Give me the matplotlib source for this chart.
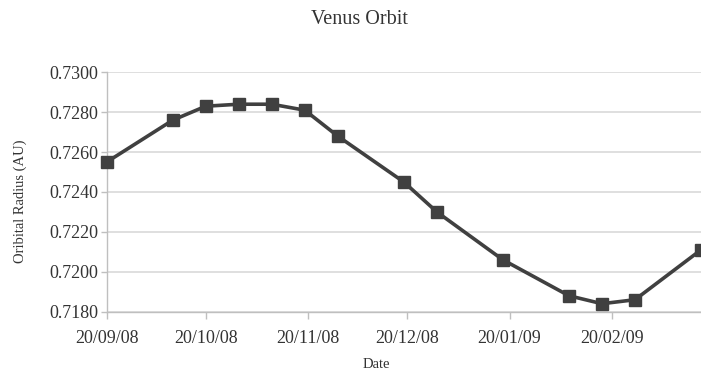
import matplotlib
matplotlib.use("Agg")
import matplotlib.pyplot as plt
import matplotlib.dates as mdates
import pandas as pd

# Venus orbital radius sampled roughly every 10 days
dates = ["2008-09-20", "2008-10-10", "2008-10-20", "2008-10-30", "2008-11-09",
         "2008-11-19", "2008-11-29", "2008-12-19", "2008-12-29", "2009-01-18",
         "2009-02-07", "2009-02-17", "2009-02-27", "2009-03-19"]
radius = [0.7255, 0.7276, 0.7283, 0.7284, 0.7284,
          0.7281, 0.7268, 0.7245, 0.7230, 0.7206,
          0.7188, 0.7184, 0.7186, 0.7211]
tick_dates = ["2008-09-20", "2008-10-20", "2008-11-20", "2008-12-20",
              "2009-01-20", "2009-02-20"]
y_ticks = [0.7180, 0.7200, 0.7220, 0.7240, 0.7260, 0.7280, 0.7300]

plt.rcParams["font.family"] = ["Liberation Serif", "DejaVu Serif"]
text_col = "#333333"

x = pd.to_datetime(dates)

fig = plt.figure(figsize=(7.01, 3.74), dpi=100)
ax = fig.add_axes([0.1522, 0.1666, 0.8478, 0.6401])

ax.plot(x, radius, color="#404040", linewidth=2.6, marker="s",
        markersize=9, clip_on=False, zorder=3)

ax.set_xlim(x[0], x[-1])
ax.set_ylim(0.7180, 0.7300)
ax.set_yticks(y_ticks)
ax.yaxis.set_major_formatter(plt.FormatStrFormatter("%.4f"))
ax.set_xticks(pd.to_datetime(tick_dates))
ax.xaxis.set_major_formatter(mdates.DateFormatter("%d/%m/%y"))

ax.grid(axis="y", color="#d9d9d9", linewidth=1.2)
ax.set_axisbelow(True)
for side in ["top", "right"]:
    ax.spines[side].set_visible(False)
for side in ["left", "bottom"]:
    ax.spines[side].set_color("#bfbfbf")
    ax.spines[side].set_linewidth(1.0)

ax.tick_params(axis="y", length=4, width=1, color="#bfbfbf", pad=2,
               labelsize=13, labelcolor=text_col)
ax.tick_params(axis="x", length=5, width=1, color="#bfbfbf", pad=8,
               labelsize=13, labelcolor=text_col)

fig.text(359 / 701, 1 - 20 / 374, "Venus Orbit", ha="center", va="center",
         fontsize=14.5, color=text_col)
fig.text(376 / 701, 1 - 365 / 374, "Date", ha="center", va="center",
         fontsize=10.5, color=text_col)
fig.text(20 / 701, 1 - 201 / 374, "Oribital Radius (AU)", ha="center",
         va="center", rotation=90, fontsize=10.5, color=text_col)

fig.savefig("out.png", dpi=100)
